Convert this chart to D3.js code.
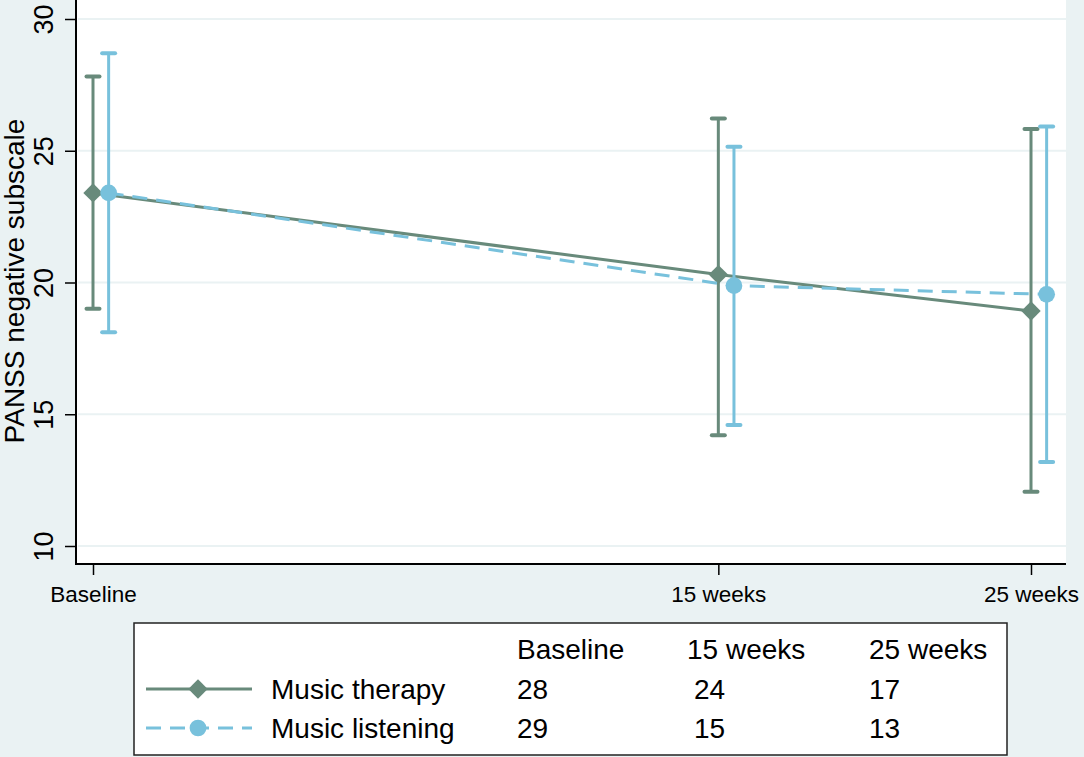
<!DOCTYPE html>
<html>
<head>
    <meta charset="utf-8">
    <script src="https://d3js.org/d3.v7.min.js"></script>
    <style>
        body { margin: 0; background: #eaf2f3; }
        text { font-family: "Liberation Sans", Arial, sans-serif; fill: #000; }
    </style>
</head>
<body>
    <svg id="chart"></svg>

    <script>
        // Time points (x position in weeks, baseline drawn a little before 0 as in the original)
        const timeLabels = ["Baseline", "15 weeks", "25 weeks"];
        const timeX = [-5, 15, 25];

        // Music therapy: mean and 95% CI
        const therapyMean = [23.4, 20.3, 18.92];
        const therapyLow = [19.0, 14.2, 12.06];
        const therapyHigh = [27.82, 26.22, 25.83];

        // Music listening: mean and 95% CI
        const listeningMean = [23.4, 19.88, 19.55];
        const listeningLow = [18.11, 14.59, 13.19];
        const listeningHigh = [28.7, 25.15, 25.92];

        // Numbers at risk shown in the legend table
        const therapyN = [28, 24, 17];
        const listeningN = [29, 15, 13];

        const yTicks = [10, 15, 20, 25, 30];

        const width = 1084;
        const height = 757;
        const green = "#688a7b";
        const blue = "#78c1dc";
        const bg = "#eaf2f3";

        const svg = d3.select("#chart")
            .attr("width", width)
            .attr("height", height);

        svg.append("rect")
            .attr("width", width)
            .attr("height", height)
            .attr("fill", bg);

        // Plot region
        const plotLeft = 76, plotRight = 1066, plotTop = 0, plotBottom = 564;

        svg.append("rect")
            .attr("x", plotLeft)
            .attr("y", plotTop)
            .attr("width", plotRight - plotLeft)
            .attr("height", plotBottom - plotTop)
            .attr("fill", "#fff");

        const x = d3.scaleLinear().domain([-5, 25]).range([93, 1031]);
        const y = d3.scaleLinear().domain([10, 30]).range([546, 19]);
        const offset = 0.5; // listening series is nudged right

        // Grid lines
        svg.append("g")
            .selectAll("line")
            .data(yTicks)
            .join("line")
            .attr("x1", plotLeft + 2)
            .attr("x2", plotRight)
            .attr("y1", d => y(d))
            .attr("y2", d => y(d))
            .attr("stroke", bg)
            .attr("stroke-width", 2);

        // Y axis
        const yAxis = svg.append("g")
            .attr("transform", `translate(${plotLeft},0)`)
            .call(d3.axisLeft(y).tickValues(yTicks).tickSize(11).tickSizeOuter(0).tickFormat(d3.format("d")));
        yAxis.select(".domain").remove();
        yAxis.append("line")
            .attr("y1", plotTop).attr("y2", plotBottom)
            .attr("stroke", "#000").attr("stroke-width", 2);
        yAxis.selectAll(".tick line").attr("stroke", "#000").attr("stroke-width", 1.5);
        yAxis.selectAll(".tick text")
            .attr("transform", "rotate(-90)")
            .attr("x", 0)
            .attr("y", -23)
            .attr("dy", 0)
            .attr("text-anchor", "middle")
            .style("font-size", "27px")
            .style("font-family", "Liberation Sans, Arial, sans-serif");

        // X axis
        const xAxis = svg.append("g")
            .attr("transform", `translate(0,${plotBottom})`)
            .call(d3.axisBottom(x).tickValues(timeX).tickSize(11).tickSizeOuter(0)
                .tickFormat((d, i) => timeLabels[i]));
        xAxis.select(".domain").remove();
        xAxis.append("line")
            .attr("x1", plotLeft - 1).attr("x2", plotRight)
            .attr("stroke", "#000").attr("stroke-width", 2);
        xAxis.selectAll(".tick line").attr("stroke", "#000").attr("stroke-width", 1.5);
        xAxis.selectAll(".tick text")
            .attr("y", 38)
            .attr("dy", 0)
            .style("font-size", "22.5px")
            .style("font-family", "Liberation Sans, Arial, sans-serif");

        // Y title
        svg.append("text")
            .attr("transform", "translate(24,281) rotate(-90)")
            .attr("text-anchor", "middle")
            .style("font-size", "28px")
            .text("PANSS negative subscale");

        // Series
        const series = [
            { name: "Music therapy", mean: therapyMean, low: therapyLow, high: therapyHigh, n: therapyN, color: green, dx: 0, dash: null, shape: "diamond" },
            { name: "Music listening", mean: listeningMean, low: listeningLow, high: listeningHigh, n: listeningN, color: blue, dx: offset, dash: "15,9", shape: "circle" }
        ];

        const line = d3.line()
            .x(d => d[0])
            .y(d => d[1]);

        const diamond = d3.symbol().type(d3.symbolDiamond2).size(240);
        const dot = d3.symbol().type(d3.symbolCircle).size(220);

        series.forEach(s => {
            const g = svg.append("g");
            const pts = timeX.map((t, i) => [x(t + s.dx), y(s.mean[i])]);

            // error bars
            g.selectAll("line.bar")
                .data(timeX)
                .join("line")
                .attr("class", "bar")
                .attr("x1", t => x(t + s.dx))
                .attr("x2", t => x(t + s.dx))
                .attr("y1", (t, i) => y(s.low[i]))
                .attr("y2", (t, i) => y(s.high[i]))
                .attr("stroke", s.color)
                .attr("stroke-width", 3);

            ["low", "high"].forEach(k => {
                g.selectAll("line.cap-" + k)
                    .data(timeX)
                    .join("line")
                    .attr("class", "cap-" + k)
                    .attr("x1", t => x(t + s.dx) - 6.5)
                    .attr("x2", t => x(t + s.dx) + 6.5)
                    .attr("y1", (t, i) => y(s[k][i]))
                    .attr("y2", (t, i) => y(s[k][i]))
                    .attr("stroke", s.color)
                    .attr("stroke-width", 4)
                    .attr("stroke-linecap", "round");
            });

            g.append("path")
                .datum(pts)
                .attr("d", line)
                .attr("fill", "none")
                .attr("stroke", s.color)
                .attr("stroke-width", 3)
                .attr("stroke-dasharray", s.dash);

            g.selectAll("path.marker")
                .data(pts)
                .join("path")
                .attr("class", "marker")
                .attr("transform", d => `translate(${d[0]},${d[1]})`)
                .attr("d", s.shape === "diamond" ? diamond : dot)
                .attr("fill", s.color);
        });

        // Legend box with table
        const legend = svg.append("g");
        legend.append("rect")
            .attr("x", 134)
            .attr("y", 623)
            .attr("width", 873)
            .attr("height", 132)
            .attr("fill", "#fff")
            .attr("stroke", "#222")
            .attr("stroke-width", 1.5);

        const colX = [517, 687, 869];
        const countX = [517, 694, 869];
        const rowY = [699, 738];

        legend.selectAll("text.head")
            .data(timeLabels)
            .join("text")
            .attr("class", "head")
            .attr("x", (d, i) => colX[i])
            .attr("y", 659)
            .style("font-size", "28px")
            .text(d => d);

        series.forEach((s, r) => {
            const ly = rowY[r] - 10;
            legend.append("line")
                .attr("x1", 146).attr("x2", 252)
                .attr("y1", ly).attr("y2", ly)
                .attr("stroke", s.color)
                .attr("stroke-width", 3)
                .attr("stroke-dasharray", s.dash);
            legend.append("path")
                .attr("transform", `translate(198,${ly})`)
                .attr("d", s.shape === "diamond" ? diamond : dot)
                .attr("fill", s.color);
            legend.append("text")
                .attr("x", 271).attr("y", rowY[r])
                .style("font-size", "28px")
                .text(s.name);
            legend.selectAll("text.n" + r)
                .data(s.n)
                .join("text")
                .attr("x", (d, i) => countX[i])
                .attr("y", rowY[r])
                .style("font-size", "28px")
                .text(d => d);
        });
    </script>
</body>
</html>
